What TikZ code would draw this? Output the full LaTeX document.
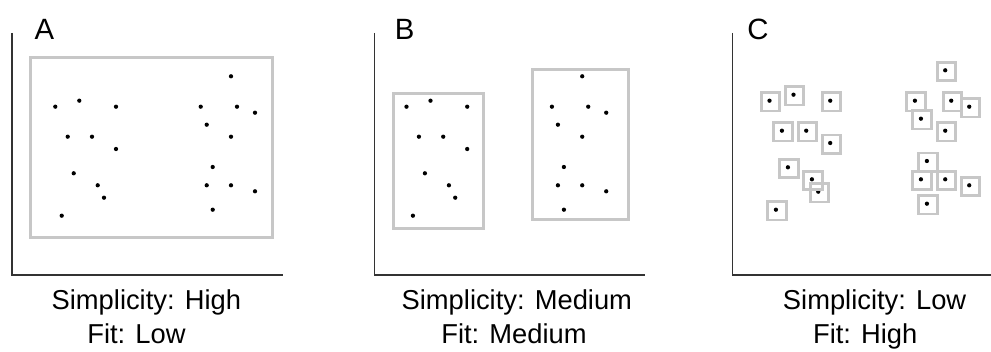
\documentclass[tikz,border=0pt]{standalone}
\usepackage{fontspec}
\setmainfont{Liberation Sans}
\begin{document}
\begin{tikzpicture}[x=0.75pt,y=-0.75pt,
  axisline/.style={draw=black!80, line width=1pt},
  hull/.style={draw=black!22, line width=2.2pt},
  boxy/.style={draw=black!22, line width=2.2pt},
  lbl/.style={anchor=base west, inner sep=0pt, font=\fontsize{20.5}{24}\selectfont},
  letter/.style={anchor=base west, inner sep=0pt, font=\fontsize{22}{26}\selectfont},
  dotc/.style={fill=black}]
\useasboundingbox (0,0) rectangle (991,352);
\def\clusterL{55.3/106.7,79.3/100.7,116/106.7,67.7/136.7,92/136.7,116/149,73.7/173.3,97.7/185.3,104/197.7,61.7/215.7}
\def\clusterR{231/76.3,200.7/106.7,237/106.7,255/112.7,206.7/124.7,231/136.7,212.7/167,206.7/185.3,231/185.3,255/191.3,212.7/209.7}
% ---------- Panel A ----------
\coordinate (a0) at (12,275);
\coordinate (atop) at (12,33);
\coordinate (aend) at (283.3,275);
\draw[axisline] (atop) -- (a0) -- (aend);
\node[letter] (aletter) at (34.3,39.3) {A};
\draw[hull] (30.5,57.2) rectangle (272.5,237.8);
\foreach \x/\y in \clusterL {\fill[dotc] (\x,\y) circle (1.6pt);}
\foreach \x/\y in \clusterR {\fill[dotc] (\x,\y) circle (1.6pt);}
\node[lbl] (asimp) at (51.4,309.5) {Simplicity: High};
\node[lbl] (afit) at (87.1,343.5) {Fit: Low};
% ---------- Panel B ----------
\coordinate (b0) at (374.7,275);
\coordinate (btop) at (374.7,33);
\coordinate (bend) at (645,275);
\draw[axisline] (btop) -- (b0) -- (bend);
\node[letter] (bletter) at (394.7,39.3) {B};
\draw[hull] (393.2,93.2) rectangle (483.5,228.5);
\draw[hull] (532.5,69.8) rectangle (628.8,219.8);
\begin{scope}[shift={(351.2,0)}]
\foreach \x/\y in \clusterL {\fill[dotc] (\x,\y) circle (1.6pt);}
\foreach \x/\y in \clusterR {\fill[dotc] (\x,\y) circle (1.6pt);}
\end{scope}
\node[lbl] (bsimp) at (401.4,309.5) {Simplicity: Medium};
\node[lbl] (bfit) at (441.1,343.5) {Fit: Medium};
% ---------- Panel C ----------
\coordinate (c0) at (732.7,275);
\coordinate (ctop) at (732.7,33);
\coordinate (cend) at (991,275);
\draw[axisline] (ctop) -- (c0) -- (cend);
\node[letter] (cletter) at (747,39.3) {C};
\begin{scope}[shift={(714.2,-6)}]
\foreach \x/\y in \clusterL {\fill[dotc] (\x,\y) circle (1.6pt);}
\foreach \x/\y in \clusterR {\fill[dotc] (\x,\y) circle (1.6pt);}
\foreach \x/\y in \clusterL {\draw[boxy] (\x-8,\y-8) rectangle (\x+10.3,\y+10.3);}
\foreach \x/\y in \clusterR {\draw[boxy] (\x-8,\y-8) rectangle (\x+10.3,\y+10.3);}
\end{scope}
\node[lbl] (csimp) at (782.7,309.5) {Simplicity: Low};
\node[lbl] (cfit) at (812.8,343.5) {Fit: High};
\end{tikzpicture}
\end{document}
